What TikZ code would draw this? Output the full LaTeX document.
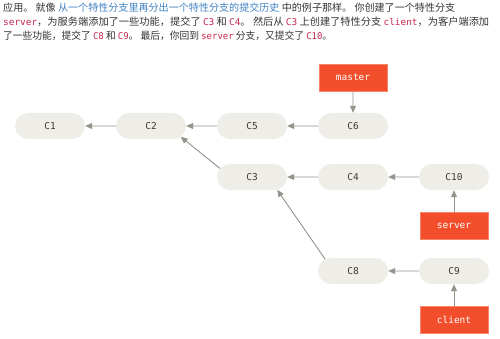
\documentclass[tikz,border=0pt]{standalone}
\usepackage{graphicx}
\usepackage{fontspec}
\setmainfont{Noto Sans CJK SC}
\newfontfamily\codefont{DejaVu Sans Mono}
\usetikzlibrary{shapes.misc,arrows.meta}
\definecolor{commitfill}{RGB}{238,237,231}
\definecolor{commitink}{RGB}{60,58,55}
\definecolor{branchred}{RGB}{242,78,43}
\definecolor{edgegray}{RGB}{150,146,140}
\definecolor{bodyink}{RGB}{51,51,51}
\definecolor{linkblue}{RGB}{65,131,196}
\definecolor{codered}{RGB}{199,37,78}
\newcommand{\cd}[1]{{\codefont\color{codered}\fontsize{9.3}{12}\selectfont #1}}
\newcommand{\lk}[1]{{\color{linkblue}#1}}
% set a paragraph line to a given width, keeping its height
\newcommand{\proseline}[2]{\resizebox{#1}{\height}{#2}}
\tikzset{
  commit/.style={rounded rectangle, fill=commitfill, minimum width=70pt,
    minimum height=26pt, inner sep=0pt, text=commitink,
    font=\codefont\fontsize{9.5}{11}\selectfont},
  branch/.style={rectangle, fill=branchred, draw=branchred!70!white, line width=0.5pt,
    minimum width=68pt, minimum height=27pt, inner sep=0pt, text=white,
    font=\codefont\fontsize{9.5}{11}\selectfont},
  parent/.style={draw=edgegray, line width=0.9pt,
    -{Triangle[length=7pt,width=6pt]}},
  prose/.style={anchor=base west, inner sep=0pt, text=bodyink,
    font=\fontsize{10.1}{13}\selectfont}
}
\begin{document}
\begin{tikzpicture}[x=1pt,y=-1pt]
\useasboundingbox[fill=white] (0,0) rectangle (500,339);

% explanatory paragraph
\node[prose] (l1) at (3,11.5) {\proseline{452pt}{应用。 就像 \lk{从一个特性分支里再分出一个特性分支的提交历史} 中的例子那样。 你创建了一个特性分支}};
\node[prose] (l2) at (3,25.5) {\proseline{486pt}{\cd{server}，为服务端添加了一些功能，提交了 \cd{C3} 和 \cd{C4}。 然后从 \cd{C3} 上创建了特性分支 \cd{client}，为客户端添加}};
\node[prose] (l3) at (3,40) {\proseline{329pt}{了一些功能，提交了 \cd{C8} 和 \cd{C9}。 最后，你回到 \cd{server} 分支，又提交了 \cd{C10}。}};

% commits
\node[commit] (C1) at (50,126) {C1};
\node[commit] (C2) at (151,126) {C2};
\node[commit] (C5) at (252,126) {C5};
\node[commit] (C6) at (353,126) {C6};
\node[commit] (C3) at (252,177) {C3};
\node[commit] (C4) at (353,177) {C4};
\node[commit] (C10) at (454,177) {C10};
\node[commit] (C8) at (353,271) {C8};
\node[commit] (C9) at (454,271) {C9};

% branch pointers
\node[branch] (master) at (353,77.5) {master};
\node[branch] (server) at (454,226) {server};
\node[branch] (client) at (454,320) {client};

% parent links
\draw[parent] (C2) -- (C1);
\draw[parent] (C5) -- (C2);
\draw[parent] (C6) -- (C5);
\draw[parent] (C3.165) -- (C2.-20);
\draw[parent] (C4) -- (C3);
\draw[parent] (C10) -- (C4);
\draw[parent] (C8.157) -- (C3.-27);
\draw[parent] (C9) -- (C8);

% branch links
\draw[parent] (master) -- (C6);
\draw[parent] (server) -- (C10);
\draw[parent] (client) -- (C9);
\end{tikzpicture}
\end{document}
